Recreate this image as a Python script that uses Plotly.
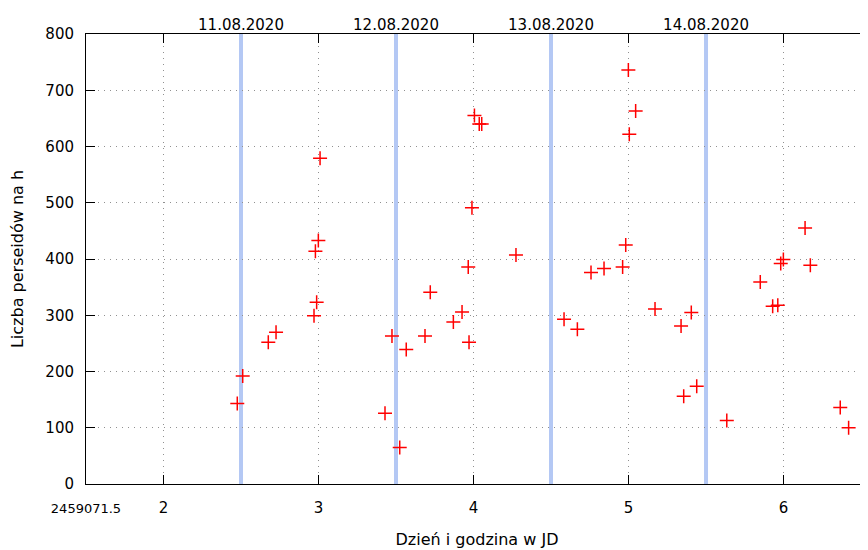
import plotly.graph_objects as go

# Day offset from JD 2459071.5 and meteor rates
jd_day = [2.476, 2.511, 2.676, 2.726, 2.971, 2.988, 2.98, 2.999, 3.01,
          3.429, 3.474, 3.524, 3.566, 3.687, 3.721, 3.87, 3.926, 3.971, 3.966, 3.99, 4.006, 4.037, 4.053, 4.274,
          4.584, 4.67, 4.758, 4.842, 4.962, 4.982, 4.999, 5.005, 5.046, 5.171, 5.339, 5.356, 5.405, 5.44, 5.634,
          5.85, 5.93, 5.963, 5.982, 5.999, 6.139, 6.173, 6.366, 6.42]
rate = [143, 192, 252, 270, 299, 323, 414, 433, 579,
        126, 263, 65, 239, 263, 341, 288, 306, 252, 386, 491, 655, 640, 640, 407,
        293, 275, 376, 383, 386, 425, 736, 622, 663, 311, 281, 156, 305, 174, 113,
        359, 316, 318, 392, 399, 455, 389, 136, 100]

date_pos = [2.5, 3.5, 4.5, 5.5]
date_labels = ["11.08.2020", "12.08.2020", "13.08.2020", "14.08.2020"]

x_tickvals = [1.5, 2, 3, 4, 5, 6]
x_ticktext = ["<span style='font-size:13px'>2459071.5</span>", "2", "3", "4", "5", "6"]
y_tickvals = [0, 100, 200, 300, 400, 500, 600, 700, 800]

FONT = "DejaVu Sans"

fig = go.Figure()
fig.add_trace(go.Scatter(
    x=jd_day, y=rate, mode="markers",
    marker=dict(symbol="cross-thin", size=10, color="red",
                line=dict(color="red", width=1.5)),
    showlegend=False, xaxis="x", yaxis="y",
))
# invisible trace to activate the top axis
fig.add_trace(go.Scatter(x=date_pos, y=[None]*len(date_pos), xaxis="x2", yaxis="y",
                         mode="markers", showlegend=False, hoverinfo="skip"))

for p in date_pos:
    fig.add_shape(type="line", xref="x", yref="paper", x0=p, x1=p, y0=0, y1=1,
                  line=dict(color="#b4c8f4", width=4), layer="below")

GRID_DASH = "1px,5px"
xr = [1.5, 6.545]
fig.update_layout(
    width=860, height=542,
    margin=dict(l=78, r=0, t=26, b=66),
    paper_bgcolor="white", plot_bgcolor="white",
    font=dict(family=FONT, size=15, color="#000"),
    xaxis=dict(
        range=xr, tickvals=x_tickvals, ticktext=x_ticktext,
        showline=True, linecolor="black", linewidth=1, mirror="ticks",
        ticks="inside", ticklen=9, tickcolor="black",
        showgrid=True, gridcolor="#909090", griddash=GRID_DASH, gridwidth=1,
        zeroline=False, ticklabelstandoff=10,
        title=dict(text="Dzień i godzina w JD", font=dict(size=16), standoff=17),
        automargin=False,
    ),
    xaxis2=dict(
        range=xr, overlaying="x", side="top", tickvals=date_pos, ticktext=date_labels,
        ticks="", showline=False, showgrid=False, zeroline=False,
        tickfont=dict(size=15), automargin=False,
    ),
    yaxis=dict(
        range=[0, 800], tickvals=y_tickvals,
        showline=True, linecolor="black", linewidth=1,
        ticks="inside", ticklen=9, tickcolor="black",
        showgrid=True, gridcolor="#909090", griddash=GRID_DASH, gridwidth=1,
        zeroline=False, ticklabelstandoff=8,
        title=dict(text="Liczba perseidów na h", font=dict(size=16), standoff=18),
        automargin=False,
    ),
)

fig.write_html("out.html")
